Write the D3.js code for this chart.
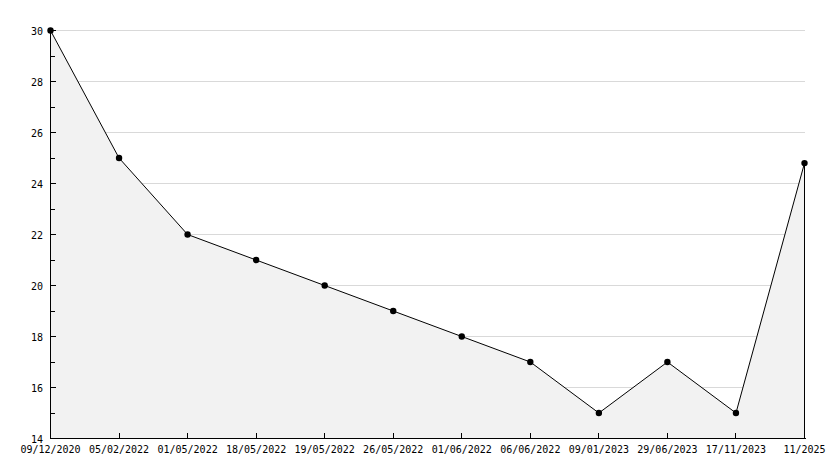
<!DOCTYPE html>
<html>
<head>
<meta charset="utf-8">
<script src="https://cdn.jsdelivr.net/npm/d3@7"></script>
<style>
  body { margin: 0; background: #fff; }
  text { font-family: "DejaVu Sans Mono", monospace; font-size: 10px; fill: #000; }
</style>
</head>
<body>
<div id="chart"></div>
<script>
// dates along the bottom and the value at each date
var dates = ['09/12/2020', '05/02/2022', '01/05/2022', '18/05/2022', '19/05/2022', '26/05/2022',
  '01/06/2022', '06/06/2022', '09/01/2023', '29/06/2023', '17/11/2023', '11/2025'];
var values = [30, 25, 22, 21, 20, 19, 18, 17, 15, 17, 15, 24.8];
var majorTicks = [14, 16, 18, 20, 22, 24, 26, 28, 30];
var minorTicks = [15, 17, 19, 21, 23, 25, 27, 29];

var width = 834, height = 468;
// plot edges (window.top is taken, so prefix them)
var plotLeft = 50.5, plotRight = 804.5, plotTop = 30.5, plotBottom = 438.5;

var svg = d3.select('#chart').append('svg')
  .attr('width', width)
  .attr('height', height);

var x = d3.scalePoint().domain(dates).range([plotLeft, plotRight]);
var y = d3.scaleLinear().domain([14, 30]).range([plotBottom, plotTop]);

var data = dates.map(function(d, i) { return { date: d, value: values[i] }; });

function snap(v) { return Math.round(v - 0.5) + 0.5; }

// grid lines first, the fill covers them
svg.append('g').selectAll('line')
  .data(majorTicks.filter(function(v) { return v > 14; }))
  .enter().append('line')
  .attr('x1', plotLeft).attr('x2', plotRight)
  .attr('y1', function(d) { return snap(y(d)); })
  .attr('y2', function(d) { return snap(y(d)); })
  .attr('stroke', '#d9d9d9')
  .attr('shape-rendering', 'crispEdges');

var area = d3.area()
  .x(function(d) { return x(d.date); })
  .y0(plotBottom)
  .y1(function(d) { return y(d.value); });

svg.append('path')
  .datum(data)
  .attr('d', area)
  .attr('fill', '#f2f2f2');

// closing edge on the right
svg.append('line')
  .attr('x1', plotRight).attr('x2', plotRight)
  .attr('y1', y(values[values.length - 1])).attr('y2', plotBottom)
  .attr('stroke', '#000')
  .attr('shape-rendering', 'crispEdges');

var line = d3.line()
  .x(function(d) { return x(d.date); })
  .y(function(d) { return y(d.value); });

svg.append('path')
  .datum(data)
  .attr('d', line)
  .attr('fill', 'none')
  .attr('stroke', '#000')
  .attr('stroke-width', 1);

// y axis
var yAxis = svg.append('g');
yAxis.append('line')
  .attr('x1', plotLeft).attr('x2', plotLeft).attr('y1', plotTop).attr('y2', plotBottom)
  .attr('stroke', '#000').attr('shape-rendering', 'crispEdges');
yAxis.selectAll('.major')
  .data(majorTicks).enter().append('line')
  .attr('x1', plotLeft).attr('x2', plotLeft + 5)
  .attr('y1', function(d) { return snap(y(d)); })
  .attr('y2', function(d) { return snap(y(d)); })
  .attr('stroke', '#000').attr('shape-rendering', 'crispEdges');
yAxis.selectAll('.minor')
  .data(minorTicks).enter().append('line')
  .attr('x1', plotLeft).attr('x2', plotLeft + 4)
  .attr('y1', function(d) { return snap(y(d)); })
  .attr('y2', function(d) { return snap(y(d)); })
  .attr('stroke', '#000').attr('shape-rendering', 'crispEdges');
yAxis.selectAll('text')
  .data(majorTicks).enter().append('text')
  .attr('x', 43)
  .attr('y', function(d) { return y(d) + 4; })
  .attr('text-anchor', 'end')
  .text(function(d) { return d; });

// x axis
var xAxis = svg.append('g');
xAxis.append('line')
  .attr('x1', plotLeft).attr('x2', plotRight + 1).attr('y1', plotBottom).attr('y2', plotBottom)
  .attr('stroke', '#000').attr('shape-rendering', 'crispEdges');
xAxis.selectAll('.tick')
  .data(dates.slice(1, -1)).enter().append('line')
  .attr('x1', function(d) { return snap(x(d)); })
  .attr('x2', function(d) { return snap(x(d)); })
  .attr('y1', plotBottom - 6).attr('y2', plotBottom)
  .attr('stroke', '#000').attr('shape-rendering', 'crispEdges');
xAxis.selectAll('text')
  .data(dates).enter().append('text')
  .attr('x', function(d) { return x(d); })
  .attr('y', 453)
  .attr('text-anchor', 'middle')
  .text(function(d) { return d; });

// markers
svg.append('g').selectAll('circle')
  .data(data).enter().append('circle')
  .attr('cx', function(d) { return x(d.date); })
  .attr('cy', function(d) { return y(d.value); })
  .attr('r', 3.2)
  .attr('fill', '#000');
</script>
</body>
</html>
